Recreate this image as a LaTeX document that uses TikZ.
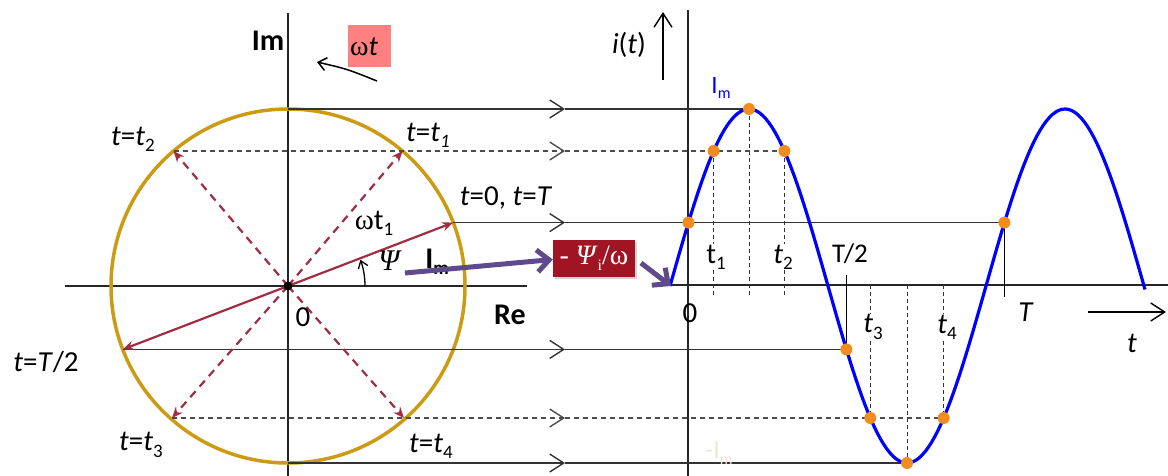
\documentclass[tikz,border=0pt]{standalone}
\usepackage{fontspec}
\setmainfont{Carlito}
\newfontfamily\grk{Liberation Serif}
\usetikzlibrary{arrows.meta,shadows}
\definecolor{gold}{RGB}{204,155,20}
\definecolor{phas}{RGB}{160,45,65}
\definecolor{dotc}{RGB}{242,140,30}
\definecolor{purp}{RGB}{95,75,140}
\definecolor{boxred}{RGB}{160,20,35}
\definecolor{pinkbg}{RGB}{255,128,128}
\definecolor{pale}{RGB}{242,228,214}
\definecolor{sinblue}{RGB}{0,0,255}
\newcommand\lsub[1]{\raisebox{-0.45ex}{\fontsize{19}{19}\selectfont #1}}
\newcommand\ssub[1]{\raisebox{-0.45ex}{\fontsize{16}{16}\selectfont #1}}
\begin{document}
\begin{tikzpicture}[x=1pt,y=-1pt,
  lbl/.style={inner sep=0pt, font=\fontsize{29}{33}\selectfont},
  blbl/.style={inner sep=0pt, font=\fontsize{30}{34}\selectfont\bfseries},
  axisl/.style={line width=1.4pt, draw=black!85},
  axisr/.style={line width=2.4pt, draw=black!85},
  proj/.style={line width=1.4pt, draw=black!80},
  projd/.style={line width=1.4pt, draw=black!70, dash pattern=on 5pt off 4pt},
  vdash/.style={line width=1pt, draw=black!80, dash pattern=on 4pt off 3pt},
  chev/.style={-{Straight Barb[length=14pt,width=18pt]}},
  phasor/.style={line width=2.2pt, draw=phas, -{Stealth[length=11pt,width=9pt]}},
  phasord/.style={phasor, dash pattern=on 8pt off 6pt},
  dotst/.style={fill=dotc},
  purpa/.style={line width=5pt, draw=purp, -{Straight Barb[length=12pt,width=22pt]}}
]
\useasboundingbox (0,0) rectangle (1168,476);
% coordinates
\coordinate (O) at (288,286);
\coordinate (Ctop) at (288,109);
\coordinate (Cbot) at (288,463);
\coordinate (C0) at (453.2,222.6);
\coordinate (C1) at (402.5,151);
\coordinate (C2) at (173.5,151);
\coordinate (C3) at (172,418);
\coordinate (C4) at (404,418);
\coordinate (CH) at (122.8,349.4);
\coordinate (d0) at (688.4,222.6);
\coordinate (d1) at (713.6,151);
\coordinate (dp) at (749,109);
\coordinate (d2) at (784.4,151);
\coordinate (dH) at (846.4,349.4);
\coordinate (d3) at (870.3,418);
\coordinate (dt) at (907,463);
\coordinate (d4) at (943.7,418);
\coordinate (dT) at (1004.4,222.6);
\coordinate (cs) at (671,286);

% left axes
\draw[axisl] (288,13) -- (288,476);
\draw[axisl] (65,286) -- (527,286);
% circle
\draw[gold, line width=3.5pt] (O) circle (177);
% right axes
\draw[axisr] (688,10) -- (688,476);
\draw[line width=2pt, draw=black!85] (652,285) -- (1168,285);
\draw[line width=1.4pt, -{Straight Barb[length=14pt,width=18pt]}] (663,80) -- (663,12);
\draw[line width=1.4pt, -{Straight Barb[length=14pt,width=18pt]}] (1088,312) -- (1166,312);

% projection lines
\draw[proj, chev] (Ctop) -- (565,109); \draw[proj] (565,109) -- (dp);
\draw[projd, chev] (C2) -- (565,151); \draw[projd] (565,151) -- (d2);
\draw[proj, chev] (C0) -- (565,222.6); \draw[proj] (565,222.6) -- (dT);
\draw[proj, chev] (CH) -- (565,349.4); \draw[proj] (565,349.4) -- (dH);
\draw[projd, chev] (C3) -- (565,418); \draw[projd] (565,418) -- (d4);
\draw[proj, chev] (Cbot) -- (565,463); \draw[proj] (565,463) -- (dt);

% vertical dashed in graph
\draw[vdash] (d1) -- (713.6,296);
\draw[vdash] (dp) -- (749,296);
\draw[vdash] (d2) -- (784.4,296);
\draw[vdash] (870.3,285) -- (d3);
\draw[vdash] (907,285) -- (dt);
\draw[vdash] (943.7,285) -- (d4);
% ticks
\draw[line width=1.4pt] (846.4,275) -- (dH);
\draw[line width=1.4pt] (dT) -- (1004.4,297);

% phasors
\draw[phasor] (O) -- (C0);
\draw[phasor] (O) -- (CH);
\draw[phasord] (O) -- (C1);
\draw[phasord] (O) -- (C2);
\draw[phasord] (O) -- (C3);
\draw[phasord] (O) -- (C4);
\fill (O) circle (4.5);
% psi arc
\draw[line width=1.3pt, -{Straight Barb[length=7pt,width=10pt]}] (365,286) arc[start angle=0, end angle=-20, radius=77];

% sine
\draw[sinblue, line width=3.2pt] plot[domain=670:1145, samples=150] (\x,{286-177*sin(1.139241*(\x-670))});

% dots
\foreach \p in {d0,d1,dp,d2,dH,d3,dt,d4,dT} \fill[dotst] (\p) circle (6);

% omega t box and arrow
\node[fill=pinkbg, minimum width=43pt, minimum height=42pt, inner sep=0pt] (wb) at (369.5,46) {};
\node[inner sep=0pt, font=\fontsize{28}{32}\selectfont] (wt) at (364,47) {{\grk ω}\textit{t}};
\coordinate (wa1) at (377,81);
\coordinate (wa2) at (317,62);
\draw[line width=1.5pt, -{Straight Barb[length=8pt,width=13pt]}] (wa1) .. controls (347,69) .. (wa2);

% labels left
\node[blbl] (lIm) at (268,41) {Im};
\node[lbl] (lt2) at (133,139) {\textit{t}=\textit{t}\lsub{2}};
\node[lbl] (lt1) at (428,135) {\textit{t}=\textit{t}\lsub{\textit{1}}};
\node[lbl] (lt0) at (506,198) {\textit{t}=0, \textit{t}=\textit{T}};
\node[lbl] (lwt1) at (374,223) {{\grk ω}t\lsub{1}};
\node[blbl] (lImr) at (437,262) {I\lsub{\bfseries m}};
\node[inner sep=0pt, font=\fontsize{30}{34}\selectfont] (lpsi) at (389,261) {\grk\itshape Ψ};
\node[lbl] (lO) at (303,317) {0};
\node[blbl] (lRe) at (510,315) {Re};
\node[lbl] (lTh) at (46,362) {\textit{t}=\textit{T}/2};
\node[lbl] (lt3) at (141,445) {\textit{t}=\textit{t}\lsub{3}};
\node[lbl] (lt4) at (431,446) {\textit{t}=\textit{t}\lsub{4}};

% purple arrows and box
\node[fill=boxred, text=white, minimum width=82pt, minimum height=37pt, inner sep=0pt, drop shadow={opacity=0.35, shadow xshift=2pt, shadow yshift=-2pt}, font=\fontsize{28}{32}\selectfont\grk] (pb) at (594,258.5) {- \textit{Ψ}\ssub{i}/ω};
\coordinate (pa) at (405,273);
\draw[purpa] (pa) -- ([yshift=-1pt]pb.west);
\coordinate (pc) at (641,263);
\draw[purpa] (pc) -- (cs);

% labels right
\node[lbl] (ri) at (629,45) {\textit{i}(\textit{t})};
\node[inner sep=0pt, text=sinblue, font=\fontsize{25}{28}\selectfont] (rIm) at (721,88) {I\ssub{m}};
\node[lbl, fill=white, inner sep=1pt] (rt1) at (716,257) {t\lsub{1}};
\node[lbl, fill=white, inner sep=1pt] (rt2) at (783,257) {\textit{t}\lsub{2}};
\node[inner sep=0pt, font=\fontsize{27}{30}\selectfont] (rTh) at (850,254) {T/2};
\node[lbl] (rO) at (690,313) {0};
\node[lbl] (rT) at (1026,312) {\textit{T}};
\node[lbl, fill=white, inner sep=1pt] (rt3) at (873,327) {\textit{t}\lsub{3}};
\node[lbl, fill=white, inner sep=1pt] (rt4) at (947,327) {\textit{t}\lsub{4}};
\node[lbl] (rt) at (1132,343) {\textit{t}};
\node[inner sep=0pt, text=pale, font=\fontsize{26}{30}\selectfont] (rmIm) at (719,453) {-I\ssub{m}};
\end{tikzpicture}
\end{document}
